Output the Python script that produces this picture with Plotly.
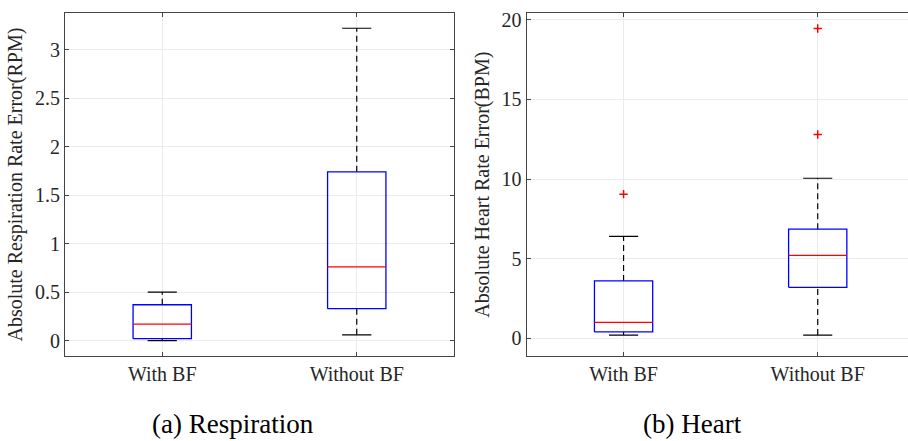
import plotly.graph_objects as go

categories = ["With BF", "Without BF"]
positions = [1, 2]

# Respiration (RPM)
resp_lower = [0.0, 0.06]
resp_q1 = [0.02, 0.33]
resp_median = [0.17, 0.76]
resp_q3 = [0.37, 1.74]
resp_upper = [0.50, 3.22]
resp_outliers = [[], []]

# Heart (BPM)
heart_lower = [0.2, 0.2]
heart_q1 = [0.4, 3.2]
heart_median = [1.0, 5.2]
heart_q3 = [3.6, 6.85]
heart_upper = [6.4, 10.05]
heart_outliers = [[9.05], [12.8, 19.45]]

captions = ["(a) Respiration", "(b) Heart"]
ytitles = ["Absolute Respiration Rate Error(RPM)", "Absolute Heart Rate Error(BPM)"]

BOX_HW = 0.15
CAP_HW = 0.075
FONT = "'Times New Roman', 'Liberation Serif', Times, serif"

fig = go.Figure()


def add_boxes(xa, ya, lower, q1, med, q3, upper, outliers):
    for p, lo, a, m, b, hi, outs in zip(positions, lower, q1, med, q3, upper, outliers):
        # whiskers (dashed)
        fig.add_trace(go.Scatter(x=[p, p, None, p, p], y=[lo, a, None, b, hi], mode="lines",
                                 line=dict(color="black", width=1.2, dash="6px,4px"),
                                 xaxis=xa, yaxis=ya, showlegend=False, hoverinfo="skip"))
        # caps
        fig.add_trace(go.Scatter(x=[p - CAP_HW, p + CAP_HW, None, p - CAP_HW, p + CAP_HW],
                                 y=[lo, lo, None, hi, hi], mode="lines",
                                 line=dict(color="black", width=1.2),
                                 xaxis=xa, yaxis=ya, showlegend=False, hoverinfo="skip"))
        # box
        fig.add_trace(go.Scatter(x=[p - BOX_HW, p + BOX_HW, p + BOX_HW, p - BOX_HW, p - BOX_HW],
                                 y=[a, a, b, b, a], mode="lines",
                                 line=dict(color="#0000ff", width=1.3),
                                 xaxis=xa, yaxis=ya, showlegend=False, hoverinfo="skip"))
        # median
        fig.add_trace(go.Scatter(x=[p - BOX_HW, p + BOX_HW], y=[m, m], mode="lines",
                                 line=dict(color="#ff0000", width=1.3),
                                 xaxis=xa, yaxis=ya, showlegend=False, hoverinfo="skip"))
        if outs:
            fig.add_trace(go.Scatter(x=[p] * len(outs), y=outs, mode="markers",
                                     marker=dict(symbol="cross-thin", size=6,
                                                 line=dict(color="#ff0000", width=1.5)),
                                     xaxis=xa, yaxis=ya, showlegend=False, hoverinfo="skip"))


add_boxes("x", "y", resp_lower, resp_q1, resp_median, resp_q3, resp_upper, resp_outliers)
add_boxes("x2", "y2", heart_lower, heart_q1, heart_median, heart_q3, heart_upper, heart_outliers)

W, H = 908, 441
ydom = [(H - 355.5) / H, (H - 9) / H]

axis_common = dict(showline=True, linecolor="#444444", linewidth=1, ticks="inside",
                   ticklen=4, tickcolor="#444444", showgrid=True, gridcolor="#ebebeb",
                   gridwidth=1, zeroline=False, tickfont=dict(family=FONT, size=20, color="#262626"))

fig.update_layout(
    width=W, height=H, margin=dict(l=0, r=0, t=0, b=0),
    paper_bgcolor="white", plot_bgcolor="white",
    font=dict(family=FONT, color="#262626"),
    xaxis=dict(domain=[65 / W, 454 / W], range=[0.5, 2.5], tickvals=positions, ticktext=categories,
               mirror="ticks", anchor="y", **axis_common),
    yaxis=dict(domain=ydom, range=[-0.161, 3.378], tickvals=[0, 0.5, 1, 1.5, 2, 2.5, 3],
               ticktext=["0", "0.5", "1", "1.5", "2", "2.5", "3"], mirror="ticks", anchor="x",
               title=dict(text=ytitles[0], font=dict(family=FONT, size=20, color="#262626"), standoff=6),
               **axis_common),
    xaxis2=dict(domain=[526.5 / W, 1.0], range=[0.5, 2.465], tickvals=positions, ticktext=categories,
                mirror="ticks", anchor="y2", **axis_common),
    yaxis2=dict(domain=ydom, range=[-1.13, 20.43], tickvals=[0, 5, 10, 15, 20], mirror=False,
                anchor="x2",
                title=dict(text=ytitles[1], font=dict(family=FONT, size=20, color="#262626"), standoff=6),
                **axis_common),
)

for cap, cx in zip(captions, [233, 692]):
    fig.add_annotation(text=cap, x=cx / W, y=(H - 424) / H, xref="paper", yref="paper",
                       xanchor="center", yanchor="middle",
                       showarrow=False, font=dict(family=FONT, size=27, color="black"))

fig.write_html("out.html")
